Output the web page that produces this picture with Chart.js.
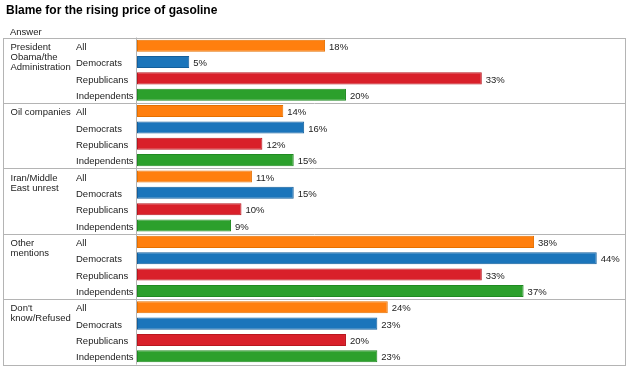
<!DOCTYPE html>
<html>
<head>
<meta charset="utf-8">
<script src="https://cdn.jsdelivr.net/npm/chart.js@4"></script>
<style>
    html, body { margin: 0; padding: 0; background: #fff; }
    #wrap { width: 628px; height: 366px; }
</style>
</head>
<body>
<div id="wrap"><canvas id="gasChart" width="628" height="366"></canvas></div>
<script>
// ================= DATA =================
const groupLabels = [
    ["President", "Obama/the", "Administration"],
    ["Oil companies"],
    ["Iran/Middle", "East unrest"],
    ["Other", "mentions"],
    ["Don't", "know/Refused"]
];
const subgroups = ["All", "Democrats", "Republicans", "Independents"];

const obamaValues    = [18, 5, 33, 20];
const oilValues      = [14, 16, 12, 15];
const iranValues     = [11, 15, 10, 9];
const otherValues    = [38, 44, 33, 37];
const dontKnowValues = [24, 23, 20, 23];

const subgroupColors = ["#ff7f0e", "#1b75bb", "#d9202a", "#2ca02c"];
const subgroupBorders = ["#e57000", "#135f9c", "#b8171f", "#208a22"];

// flatten into one row per bar
const allValues = [obamaValues, oilValues, iranValues, otherValues, dontKnowValues].flat();
const rowLabels = groupLabels.map(() => subgroups).flat();
const rowColors = rowLabels.map((l, i) => subgroupColors[i % 4]);
const rowBorders = rowLabels.map((l, i) => subgroupBorders[i % 4]);

const FONT = 'Arial, "Liberation Sans", sans-serif';

// ================= TABLE PLUGIN =================
const tablePlugin = {
    id: "tablePlugin",
    afterDraw(chart) {
        const ctx = chart.ctx;
        const area = chart.chartArea;
        const y = chart.scales.y;
        const left = 3.5, right = 625.5;

        ctx.save();

        // title + header
        ctx.fillStyle = "#000";
        ctx.textBaseline = "alphabetic";
        ctx.textAlign = "left";
        ctx.font = "bold 12px " + FONT;
        ctx.fillText("Blame for the rising price of gasoline", 6, 14);
        ctx.font = "9.5px " + FONT;
        ctx.fillStyle = "#222";
        ctx.fillText("Answer", 10, 35);

        // borders
        ctx.strokeStyle = "#b4b4b4";
        ctx.lineWidth = 1;
        ctx.strokeRect(left, Math.round(area.top) + 0.5, right - left, Math.round(area.bottom - area.top));
        ctx.beginPath();
        ctx.moveTo(Math.round(area.left) - 0.5, area.top);
        ctx.lineTo(Math.round(area.left) - 0.5, area.bottom);
        ctx.stroke();

        // group separators and labels
        const half = (y.getPixelForValue(1) - y.getPixelForValue(0)) / 2;
        ctx.font = "9.5px " + FONT;
        ctx.fillStyle = "#222";
        ctx.textBaseline = "top";
        groupLabels.forEach((lines, g) => {
            const top = y.getPixelForValue(g * 4) - half;
            if (g > 0) {
                ctx.beginPath();
                ctx.moveTo(left, Math.round(top) + 0.5);
                ctx.lineTo(right, Math.round(top) + 0.5);
                ctx.stroke();
            }
            lines.forEach((t, k) => {
                ctx.fillText(t, 10.5, top + 5 + k * 10);
            });
        });

        // value labels
        const meta = chart.getDatasetMeta(0);
        ctx.textBaseline = "middle";
        meta.data.forEach((bar, i) => {
            ctx.fillText(allValues[i] + "%", bar.x + 4, bar.y + 1.5);
        });

        ctx.restore();
    }
};

// ================= CHART =================
new Chart(document.getElementById("gasChart"), {
    type: "bar",
    data: {
        labels: rowLabels,
        datasets: [{
            data: allValues,
            backgroundColor: rowColors,
            borderColor: rowBorders,
            borderWidth: 1,
            borderSkipped: false,
            barPercentage: 0.74,
            categoryPercentage: 1
        }]
    },
    options: {
        indexAxis: "y",
        responsive: false,
        animation: false,
        layout: { padding: { top: 37.5, left: 76, right: 2, bottom: 1.5 } },
        plugins: {
            legend: { display: false },
            tooltip: { enabled: false }
        },
        scales: {
            x: { display: false, min: 0, max: 46.8 },
            y: {
                grid: { display: false },
                border: { display: false },
                ticks: {
                    crossAlign: "far",
                    padding: 0,
                    labelOffset: 1.5,
                    color: "#222",
                    font: { family: FONT, size: 9.5 }
                },
                afterFit(scale) {
                    scale.width = 61;
                    scale.paddingTop = 0;
                    scale.paddingBottom = 0;
                }
            }
        }
    },
    plugins: [tablePlugin]
});
</script>
</body>
</html>
